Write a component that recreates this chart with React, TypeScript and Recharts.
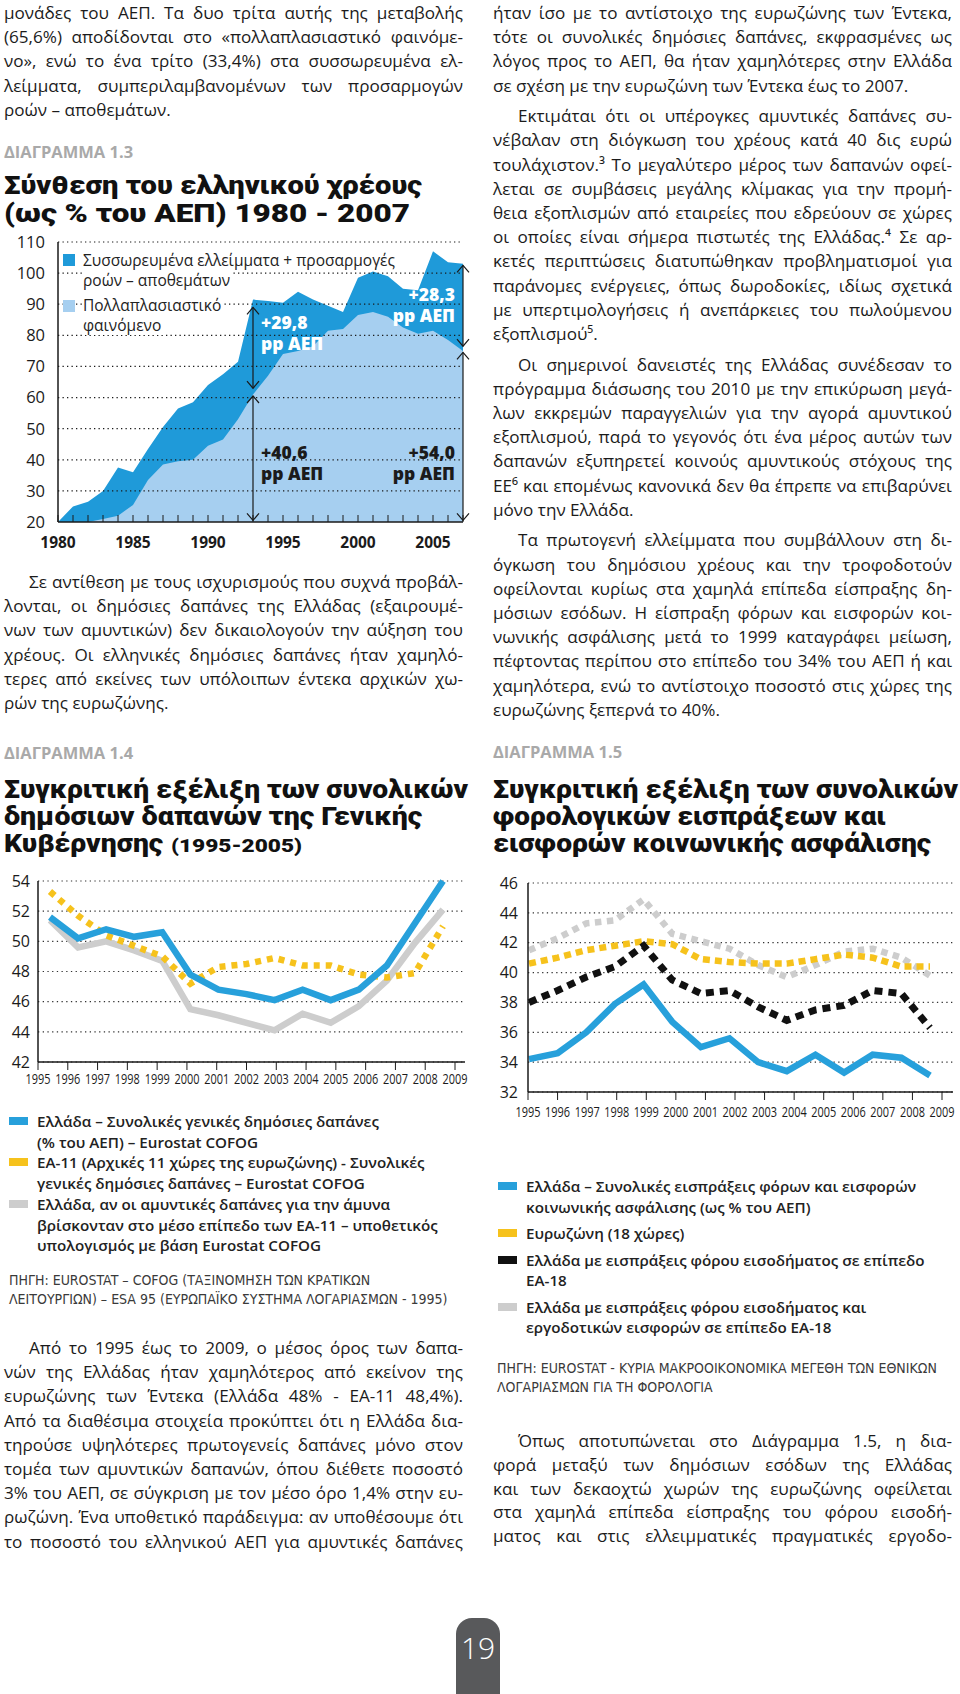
import React from "react";
import {
  AreaChart,
  Area,
  LineChart,
  Line,
  XAxis,
  YAxis,
  CartesianGrid,
  ReferenceLine,
  ReferenceDot,
} from "recharts";

const BODY = '"Open Sans", "Noto Sans", sans-serif';
const HEAVY = 'Roboto, "Noto Sans", sans-serif';
const NARROW = '"Liberation Sans Narrow", "DejaVu Sans Condensed", "Roboto Condensed", sans-serif';
const INK = "#1b1b1b";
const DARK_BLUE = "#1f9ad9";
const LIGHT_BLUE = "#a6cff0";
const LINE_BLUE = "#27a0db";
const YELLOW = "#f6c21c";
const GREY = "#cdcdcd";
const BLACK = "#111111";

// ---- Διάγραμμα 1.3 : σύνθεση χρέους
const debtYears = [
  1980, 1981, 1982, 1983, 1984, 1985, 1986, 1987, 1988, 1989, 1990, 1991, 1992, 1993,
  1994, 1995, 1996, 1997, 1998, 1999, 2000, 2001, 2002, 2003, 2004, 2005, 2006, 2007,
];
const debtTotal = [
  20, 25, 26.5, 30, 37.5, 36, 43.5, 50.5, 56.5, 58.5, 64, 67.5, 71.5, 91.5,
  91, 90.5, 94, 91.5, 89.5, 87.5, 98.5, 100.5, 99, 95, 94.5, 107, 103.5, 103,
];
const debtMultiplier = [
  20, 20, 20, 21, 22, 25.5, 33.5, 38.5, 39.5, 40, 44.5, 46.5, 53, 61,
  67, 74, 75, 76.5, 81.5, 82, 86.5, 87.5, 86, 82.5, 80.5, 81.5, 78.5, 75,
];
const debtTicks = [20, 30, 40, 50, 60, 70, 80, 90, 100, 110];
const arrowYears = [1993, 1993, 2007, 2007];
const arrowFrom = [20.5, 63, 20.5, 76.5];
const arrowTo = [60.5, 89, 74.5, 102.5];
const noteYears = [1993, 1993, 2007, 2007];
const noteLevels = [84, 42.2, 93, 42.2];
const noteValues = ["+29,8", "+40,6", "+28,3", "+54,0"];
const debtLegend = [
  ["Συσσωρευμένα ελλείμματα + προσαρμογές", "ροών – αποθεμάτων"],
  ["Πολλαπλασιαστικό", "φαινόμενο"],
];

// ---- Διάγραμμα 1.4 : δημόσιες δαπάνες
const spendYears = [1995, 1996, 1997, 1998, 1999, 2000, 2001, 2002, 2003, 2004, 2005, 2006, 2007, 2008, 2009];
const spendGreece = [51.6, 50.2, 50.8, 50.3, 50.6, 47.8, 46.8, 46.5, 46.1, 46.8, 46.1, 46.8, 48.4, 51.2, 54.0];
const spendEA11 = [53.3, 51.7, 50.4, 49.7, 49.0, 47.2, 48.3, 48.5, 48.9, 48.4, 48.4, 47.8, 47.6, 47.9, 51.0];
const spendGreeceAdj = [51.4, 49.6, 50.0, 49.4, 48.7, 45.5, 45.1, 44.6, 44.1, 45.2, 44.6, 45.7, 47.4, 49.9, 52.1];
const spendTicks = [42, 44, 46, 48, 50, 52, 54];
const spendLegend = [
  ["Ελλάδα – Συνολικές γενικές δημόσιες δαπάνες", "(% του ΑΕΠ) – Eurostat COFOG"],
  ["ΕΑ-11 (Αρχικές 11 χώρες της ευρωζώνης) - Συνολικές", "γενικές δημόσιες δαπάνες – Eurostat COFOG"],
  [
    "Ελλάδα, αν οι αμυντικές δαπάνες για την άμυνα",
    "βρίσκονταν στο μέσο επίπεδο των ΕΑ-11 – υποθετικός",
    "υπολογισμός με βάση Eurostat COFOG",
  ],
];
const spendSource = [
  "ΠΗΓΗ: EUROSTAT – COFOG (ΤΑΞΙΝΟΜΗΣΗ ΤΩΝ ΚΡΑΤΙΚΩΝ",
  "ΛΕΙΤΟΥΡΓΙΩΝ) – ESA 95 (ΕΥΡΩΠΑΪΚΟ ΣΥΣΤΗΜΑ ΛΟΓΑΡΙΑΣΜΩΝ - 1995)",
];

// ---- Διάγραμμα 1.5 : φορολογικά έσοδα
const revYears = [1995, 1996, 1997, 1998, 1999, 2000, 2001, 2002, 2003, 2004, 2005, 2006, 2007, 2008, 2009];
const revGreece = [34.2, 34.6, 36.0, 37.9, 39.2, 36.7, 35.0, 35.6, 34.0, 33.4, 34.5, 33.3, 34.5, 34.3, 33.1];
const revEZ18 = [40.6, 41.0, 41.5, 41.8, 42.1, 41.9, 40.9, 40.7, 40.6, 40.6, 40.9, 41.2, 41.0, 40.4, 40.4];
const revIncomeTax = [38.0, 38.8, 39.7, 40.4, 41.8, 39.5, 38.6, 38.8, 37.7, 36.8, 37.5, 37.8, 38.8, 38.6, 36.3];
const revIncomeEmployer = [41.5, 42.3, 43.3, 43.5, 44.9, 42.6, 42.1, 41.6, 40.5, 39.7, 40.5, 41.4, 41.6, 41.0, 39.8];
const revTicks = [32, 34, 36, 38, 40, 42, 44, 46];
const revLegend = [
  ["Ελλάδα – Συνολικές εισπράξεις φόρων και εισφορών", "κοινωνικής ασφάλισης (ως % του ΑΕΠ)"],
  ["Ευρωζώνη (18 χώρες)"],
  ["Ελλάδα με εισπράξεις φόρου εισοδήματος σε επίπεδο", "ΕΑ-18"],
  ["Ελλάδα με εισπράξεις φόρου εισοδήματος και", "εργοδοτικών εισφορών σε επίπεδο ΕΑ-18"],
];
const revSource = [
  "ΠΗΓΗ: EUROSTAT - ΚΥΡΙΑ ΜΑΚΡΟΟΙΚΟΝΟΜΙΚΑ ΜΕΓΕΘΗ ΤΩΝ ΕΘΝΙΚΩΝ",
  "ΛΟΓΑΡΙΑΣΜΩΝ ΓΙΑ ΤΗ ΦΟΡΟΛΟΓΙΑ",
];

// ---- κείμενο σελίδας
type Para = { lines: string[]; indent?: boolean; open?: boolean };

const leftTop: Para[] = [
  {
    lines: [
      "μονάδες του ΑΕΠ. Τα δυο τρίτα αυτής της μεταβολής",
      "(65,6%) αποδίδονται στο «πολλαπλασιαστικό φαινόμε-",
      "νο», ενώ το ένα τρίτο (33,4%) στα συσσωρευμένα ελ-",
      "λείμματα, συμπεριλαμβανομένων των προσαρμογών",
      "ροών – αποθεμάτων.",
    ],
  },
];
const leftMid: Para[] = [
  {
    indent: true,
    lines: [
      "Σε αντίθεση με τους ισχυρισμούς που συχνά προβάλ-",
      "λονται, οι δημόσιες δαπάνες της Ελλάδας (εξαιρουμέ-",
      "νων των αμυντικών) δεν δικαιολογούν την αύξηση του",
      "χρέους. Οι ελληνικές δημόσιες δαπάνες ήταν χαμηλό-",
      "τερες από εκείνες των υπόλοιπων έντεκα αρχικών χω-",
      "ρών της ευρωζώνης.",
    ],
  },
];
const leftBottom: Para[] = [
  {
    indent: true,
    open: true,
    lines: [
      "Από το 1995 έως το 2009, ο μέσος όρος των δαπα-",
      "νών της Ελλάδας ήταν χαμηλότερος από εκείνον της",
      "ευρωζώνης των Έντεκα (Ελλάδα 48% - ΕΑ-11 48,4%).",
      "Από τα διαθέσιμα στοιχεία προκύπτει ότι η Ελλάδα δια-",
      "τηρούσε υψηλότερες πρωτογενείς δαπάνες μόνο στον",
      "τομέα των αμυντικών δαπανών, όπου διέθετε ποσοστό",
      "3% του ΑΕΠ, σε σύγκριση με τον μέσο όρο 1,4% στην ευ-",
      "ρωζώνη. Ένα υποθετικό παράδειγμα: αν υποθέσουμε ότι",
      "το ποσοστό του ελληνικού ΑΕΠ για αμυντικές δαπάνες",
    ],
  },
];
const rightTop: Para[] = [
  {
    lines: [
      "ήταν ίσο με το αντίστοιχο της ευρωζώνης των Έντεκα,",
      "τότε οι συνολικές δημόσιες δαπάνες, εκφρασμένες ως",
      "λόγος προς το ΑΕΠ, θα ήταν χαμηλότερες στην Ελλάδα",
      "σε σχέση με την ευρωζώνη των Έντεκα έως το 2007.",
    ],
  },
  {
    indent: true,
    lines: [
      "Εκτιμάται ότι οι υπέρογκες αμυντικές δαπάνες συ-",
      "νέβαλαν στη διόγκωση του χρέους κατά 40 δις ευρώ",
      "τουλάχιστον.³ Το μεγαλύτερο μέρος των δαπανών οφεί-",
      "λεται σε συμβάσεις μεγάλης κλίμακας για την προμή-",
      "θεια εξοπλισμών από εταιρείες που εδρεύουν σε χώρες",
      "οι οποίες είναι σήμερα πιστωτές της Ελλάδας.⁴ Σε αρ-",
      "κετές περιπτώσεις διατυπώθηκαν προβληματισμοί για",
      "παράνομες ενέργειες, όπως δωροδοκίες, ιδίως σχετικά",
      "με υπερτιμολογήσεις ή ανεπάρκειες του πωλούμενου",
      "εξοπλισμού⁵.",
    ],
  },
  {
    indent: true,
    lines: [
      "Οι σημερινοί δανειστές της Ελλάδας συνέδεσαν το",
      "πρόγραμμα διάσωσης του 2010 με την επικύρωση μεγά-",
      "λων εκκρεμών παραγγελιών για την αγορά αμυντικού",
      "εξοπλισμού, παρά το γεγονός ότι ένα μέρος αυτών των",
      "δαπανών εξυπηρετεί κοινούς αμυντικούς στόχους της",
      "ΕΕ⁶ και επομένως κανονικά δεν θα έπρεπε να επιβαρύνει",
      "μόνο την Ελλάδα.",
    ],
  },
  {
    indent: true,
    lines: [
      "Τα πρωτογενή ελλείμματα που συμβάλλουν στη δι-",
      "όγκωση του δημόσιου χρέους και την τροφοδοτούν",
      "οφείλονται κυρίως στα χαμηλά επίπεδα είσπραξης δη-",
      "μόσιων εσόδων. Η είσπραξη φόρων και εισφορών κοι-",
      "νωνικής ασφάλισης μετά το 1999 καταγράφει μείωση,",
      "πέφτοντας περίπου στο επίπεδο του 34% του ΑΕΠ ή και",
      "χαμηλότερα, ενώ το αντίστοιχο ποσοστό στις χώρες της",
      "ευρωζώνης ξεπερνά το 40%.",
    ],
  },
];
const rightBottom: Para[] = [
  {
    indent: true,
    open: true,
    lines: [
      "Όπως αποτυπώνεται στο Διάγραμμα 1.5, η δια-",
      "φορά μεταξύ των δημόσιων εσόδων της Ελλάδας",
      "και των δεκαοχτώ χωρών της ευρωζώνης οφείλεται",
      "στα χαμηλά επίπεδα είσπραξης του φόρου εισοδή-",
      "ματος και στις ελλειμματικές πραγματικές εργοδο-",
    ],
  },
];

const COL_W = 459;
const LH = 24.2;

function BodyLine({ x, cy, w, text, justify }: { x: number; cy: number; w: number; text: string; justify: boolean }) {
  const base: React.CSSProperties = {
    position: "absolute",
    left: x,
    top: cy - 12,
    width: w,
    height: 24,
    lineHeight: "24px",
    fontSize: 17.1,
    whiteSpace: "nowrap",
    fontFamily: BODY,
    color: INK,
  };
  if (!justify) return <div style={base}>{text}</div>;
  return (
    <div style={{ ...base, display: "flex", justifyContent: "space-between" }}>
      {text.split(" ").map((t, i) => (
        <span key={i}>{t}</span>
      ))}
    </div>
  );
}

function Column({ x, top, paras, lh = LH, gap = 6.4 }: { x: number; top: number; paras: Para[]; lh?: number; gap?: number }) {
  const out: React.ReactNode[] = [];
  let cy = top;
  paras.forEach((p, pi) => {
    p.lines.forEach((line, li) => {
      const ind = p.indent && li === 0 ? 25 : 0;
      const justify = li < p.lines.length - 1 || !!p.open;
      out.push(<BodyLine key={`${pi}-${li}`} x={x + ind} cy={cy} w={COL_W - ind} text={line} justify={justify} />);
      cy += lh;
    });
    cy += gap;
  });
  return <>{out}</>;
}

function Kicker({ x, cy, text }: { x: number; cy: number; text: string }) {
  return (
    <div
      style={{
        position: "absolute",
        left: x,
        top: cy - 10,
        height: 20,
        lineHeight: "20px",
        fontFamily: BODY,
        fontWeight: 700,
        fontSize: 16.5,
        color: "#a9a9a9",
        whiteSpace: "nowrap",
      }}
    >
      {text}
    </div>
  );
}

function Title({ x, y, w, text, size = 26.5 }: { x: number; y: number; w: number; text: string; size?: number }) {
  return (
    <text
      x={x}
      y={y}
      textLength={w}
      lengthAdjust="spacingAndGlyphs"
      fontFamily={HEAVY}
      fontWeight={900}
      fontSize={size}
      fill="#111"
    >
      {text}
    </text>
  );
}

function ChartLegend({ x, top, step, gap, items, colors }: { x: number; top: number; step: number; gap: number; items: string[][]; colors: string[] }) {
  const out: React.ReactNode[] = [];
  let cy = top;
  items.forEach((lines, i) => {
    out.push(
      <div key={`s${i}`} style={{ position: "absolute", left: x, top: cy - 4, width: 19, height: 8, background: colors[i] }} />
    );
    lines.forEach((l, j) => {
      out.push(
        <div
          key={`t${i}-${j}`}
          style={{
            position: "absolute",
            left: x + 28,
            top: cy - 10,
            height: 20,
            lineHeight: "20px",
            fontFamily: BODY,
            fontWeight: 600,
            fontSize: 15.2,
            color: "#222",
            whiteSpace: "nowrap",
          }}
        >
          {l}
        </div>
      );
      cy += step;
    });
    cy += gap;
  });
  return <>{out}</>;
}

function Source({ x, top, lines }: { x: number; top: number; lines: string[] }) {
  return (
    <>
      {lines.map((l, i) => (
        <div
          key={i}
          style={{
            position: "absolute",
            left: x,
            top: top + i * 19 - 9,
            height: 18,
            lineHeight: "18px",
            fontFamily: NARROW,
            fontSize: 14,
            color: "#3a3a3a",
            whiteSpace: "nowrap",
          }}
        >
          {l}
        </div>
      ))}
    </>
  );
}

// ---------- chart 1.3
const debtData = debtYears.map((year, i) => ({ year, total: debtTotal[i], multiplier: debtMultiplier[i] }));

function DebtYearTick(props: any) {
  const { x, y, payload } = props;
  if (payload.value % 5 !== 0) return <g />;
  return (
    <text x={x} y={y} dy="0.72em" textAnchor="middle" fontFamily={BODY} fontWeight={700} fontSize={15.5} fill={INK}>
      {payload.value}
    </text>
  );
}

// condensed year labels for charts 1.4 / 1.5
function NarrowYearTick(props: any) {
  const { x, y, payload } = props;
  return (
    <text
      x={x}
      y={y}
      dy="0.74em"
      textAnchor="middle"
      textLength={25}
      lengthAdjust="spacingAndGlyphs"
      fontFamily={BODY}
      fontSize={14}
      fill={INK}
    >
      {payload.value}
    </text>
  );
}

function ArrowShape(props: any) {
  const { x1, y1, y2 } = props;
  const top = Math.min(y1, y2);
  const bot = Math.max(y1, y2);
  return (
    <g stroke="#1a1a1a" strokeWidth={1.2} fill="none">
      <line x1={x1} y1={top} x2={x1} y2={bot} />
      <polyline points={`${x1 - 6},${top + 7} ${x1},${top} ${x1 + 6},${top + 7}`} />
      <polyline points={`${x1 - 6},${bot - 7} ${x1},${bot} ${x1 + 6},${bot - 7}`} />
    </g>
  );
}

function NoteShape(props: any) {
  const { cx, cy, value, light, end } = props;
  const x = end ? cx - 8 : cx + 8;
  return (
    <text
      x={x}
      y={cy}
      textAnchor={end ? "end" : "start"}
      fontFamily={BODY}
      fontWeight={800}
      fontSize={17.5}
      fill={light ? "#ffffff" : INK}
    >
      <tspan x={x} dy="0.35em">{value}</tspan>
      <tspan x={x} dy="1.2em">pp ΑΕΠ</tspan>
    </text>
  );
}

function DebtChart() {
  return (
    <div style={{ position: "absolute", left: 0, top: 225, width: 475, height: 332 }}>
      <AreaChart width={475} height={332} data={debtData} margin={{ top: 17, right: 12, bottom: 5, left: 8 }}>
        <XAxis
          dataKey="year"
          type="number"
          domain={[1980, 2007]}
          ticks={debtYears}
          interval={0}
          tickSize={-7}
          tickMargin={22}
          height={30}
          axisLine={{ stroke: "#1a1a1a", strokeWidth: 1.5 }}
          tickLine={{ stroke: "#1a1a1a" }}
          tick={<DebtYearTick />}
        />
        <YAxis
          domain={[20, 110]}
          ticks={debtTicks}
          width={50}
          tickLine={false}
          tickMargin={7}
          axisLine={{ stroke: "#1a1a1a", strokeWidth: 1.5 }}
          tick={{ fill: INK, fontSize: 16.5, fontFamily: BODY }}
        />
        <Area
          dataKey="total"
          type="linear"
          baseValue={20}
          stroke="none"
          fill={DARK_BLUE}
          fillOpacity={1}
          isAnimationActive={false}
        />
        <Area
          dataKey="multiplier"
          type="linear"
          baseValue={20}
          stroke="none"
          fill={LIGHT_BLUE}
          fillOpacity={1}
          isAnimationActive={false}
        />
        {debtTicks.slice(1).map((v) => (
          <ReferenceLine key={`g${v}`} y={v} stroke="#1a1a1a" strokeWidth={1.2} strokeDasharray="1.3 3.2" />
        ))}
        {arrowYears.map((yr, i) => (
          <ReferenceLine
            key={`a${i}`}
            segment={[
              { x: yr, y: arrowFrom[i] },
              { x: yr, y: arrowTo[i] },
            ]}
            shape={(p: any) => <ArrowShape {...p} />}
          />
        ))}
        {noteYears.map((yr, i) => (
          <ReferenceDot
            key={`n${i}`}
            x={yr}
            y={noteLevels[i]}
            r={1}
            shape={(p: any) => <NoteShape cx={p.cx} cy={p.cy} value={noteValues[i]} light={i % 2 === 0} end={yr === 2007} />}
          />
        ))}
      </AreaChart>
      {/* legend */}
      {debtLegend.map((lines, i) => (
        <React.Fragment key={i}>
          <div
            style={{
              position: "absolute",
              left: 63,
              top: i === 0 ? 29 : 75,
              width: 12,
              height: 12,
              background: i === 0 ? DARK_BLUE : LIGHT_BLUE,
            }}
          />
          {lines.map((l, j) => (
            <div
              key={j}
              style={{
                position: "absolute",
                left: 83,
                top: (i === 0 ? 35 : 80) + j * 20 - 10,
                height: 20,
                lineHeight: "20px",
                fontFamily: BODY,
                fontSize: 15.5,
                color: "#222",
                background: "#fff",
                whiteSpace: "nowrap",
                paddingRight: 2,
              }}
            >
              {l}
            </div>
          ))}
        </React.Fragment>
      ))}
    </div>
  );
}

// ---------- chart 1.4
const spendData = spendYears.map((year, i) => ({
  year,
  greece: spendGreece[i],
  ea11: spendEA11[i],
  adj: spendGreeceAdj[i],
}));

const valueTick = { fill: INK, fontSize: 16, fontFamily: BODY };

// the printed year ticks sit on a slightly wider scale than the plotted points,
// so the visible axis carries an invisible line just to give it a domain
function SpendingChart() {
  return (
    <div style={{ position: "absolute", left: 0, top: 870 }}>
      <LineChart width={470} height={227} data={spendData} margin={{ top: 11, right: 5, bottom: 5, left: 8 }}>
        <CartesianGrid xAxisId="lab" vertical={false} stroke="#333" strokeWidth={1.2} strokeDasharray="1.3 3.4" />
        <XAxis
          xAxisId="lab"
          dataKey="year"
          type="number"
          domain={[1995, 2009]}
          ticks={spendYears}
          interval={0}
          padding={{ left: 0, right: 10 }}
          tickSize={8}
          tickMargin={4}
          height={30}
          axisLine={{ stroke: "#1a1a1a", strokeWidth: 1.5 }}
          tickLine={{ stroke: "#1a1a1a" }}
          tick={<NarrowYearTick />}
        />
        <XAxis xAxisId="pts" dataKey="year" type="number" domain={[1995, 2009]} padding={{ left: 12, right: 22 }} hide />
        <YAxis
          domain={[42, 54]}
          ticks={spendTicks}
          width={30}
          tickLine={false}
          tickMargin={2}
          axisLine={{ stroke: "#1a1a1a", strokeWidth: 1.5 }}
          tick={valueTick}
        />
        <Line xAxisId="lab" dataKey="greece" stroke="none" dot={false} activeDot={false} legendType="none" isAnimationActive={false} />
        <Line xAxisId="pts" dataKey="adj" type="linear" stroke={GREY} strokeWidth={6.5} dot={false} isAnimationActive={false} />
        <Line
          xAxisId="pts"
          dataKey="ea11"
          type="linear"
          stroke={YELLOW}
          strokeWidth={6.5}
          strokeDasharray="6 6"
          dot={false}
          isAnimationActive={false}
        />
        <Line xAxisId="pts" dataKey="greece" type="linear" stroke={LINE_BLUE} strokeWidth={6.5} dot={false} isAnimationActive={false} />
      </LineChart>
    </div>
  );
}

// ---------- chart 1.5
const revData = revYears.map((year, i) => ({
  year,
  greece: revGreece[i],
  ez18: revEZ18[i],
  incomeTax: revIncomeTax[i],
  incomeEmployer: revIncomeEmployer[i],
}));

function RevenueChart() {
  return (
    <div style={{ position: "absolute", left: 480, top: 870 }}>
      <LineChart width={480} height={257} data={revData} margin={{ top: 13, right: 7, bottom: 5, left: 8 }}>
        <CartesianGrid xAxisId="lab" vertical={false} stroke="#333" strokeWidth={1.2} strokeDasharray="1.3 3.4" />
        <XAxis
          xAxisId="lab"
          dataKey="year"
          type="number"
          domain={[1995, 2009]}
          ticks={revYears}
          interval={0}
          padding={{ left: 0, right: 11 }}
          tickSize={8}
          tickMargin={7}
          height={30}
          axisLine={{ stroke: "#1a1a1a", strokeWidth: 1.5 }}
          tickLine={{ stroke: "#1a1a1a" }}
          tick={<NarrowYearTick />}
        />
        <XAxis xAxisId="pts" dataKey="year" type="number" domain={[1995, 2009]} padding={{ left: 1, right: 23 }} hide />
        <YAxis
          domain={[32, 46]}
          ticks={revTicks}
          width={40}
          tickLine={false}
          tickMargin={4}
          axisLine={{ stroke: "#1a1a1a", strokeWidth: 1.5 }}
          tick={valueTick}
        />
        <Line xAxisId="lab" dataKey="greece" stroke="none" dot={false} activeDot={false} legendType="none" isAnimationActive={false} />
        <Line
          xAxisId="pts"
          dataKey="incomeEmployer"
          type="linear"
          stroke={GREY}
          strokeWidth={6.5}
          strokeDasharray="6.5 5.5"
          dot={false}
          isAnimationActive={false}
        />
        <Line
          xAxisId="pts"
          dataKey="ez18"
          type="linear"
          stroke={YELLOW}
          strokeWidth={6.5}
          strokeDasharray="7 5"
          dot={false}
          isAnimationActive={false}
        />
        <Line
          xAxisId="pts"
          dataKey="incomeTax"
          type="linear"
          stroke={BLACK}
          strokeWidth={7}
          strokeDasharray="8 6"
          dot={false}
          isAnimationActive={false}
        />
        <Line xAxisId="pts" dataKey="greece" type="linear" stroke={LINE_BLUE} strokeWidth={6.5} dot={false} isAnimationActive={false} />
      </LineChart>
    </div>
  );
}

export default function App() {
  return (
    <div
      style={{
        position: "absolute",
        left: 0,
        top: 0,
        width: 960,
        height: 1694,
        background: "#fff",
        overflow: "hidden",
      }}
    >
      <svg width={960} height={1694} style={{ position: "absolute", left: 0, top: 0 }}>
        <Title x={4} y={194} w={418} text="Σύνθεση του ελληνικού χρέους" />
        <Title x={4} y={222} w={406} text="(ως % του ΑΕΠ) 1980 - 2007" />
        <Title x={4} y={798} w={464} text="Συγκριτική εξέλιξη των συνολικών" />
        <Title x={4} y={825} w={418} text="δημόσιων δαπανών της Γενικής" />
        <Title x={4} y={852} w={159} text="Κυβέρνησης" />
        <Title x={171} y={852} w={131} text="(1995-2005)" size={19} />
        <Title x={493} y={798} w={465} text="Συγκριτική εξέλιξη των συνολικών" />
        <Title x={493} y={825} w={393} text="φορολογικών εισπράξεων και" />
        <Title x={493} y={852} w={438} text="εισφορών κοινωνικής ασφάλισης" />
      </svg>

      <Column x={4} top={13} paras={leftTop} />
      <Kicker x={4} cy={152} text="ΔΙΑΓΡΑΜΜΑ 1.3" />
      <DebtChart />
      <Column x={4} top={582} paras={leftMid} />
      <Kicker x={4} cy={753} text="ΔΙΑΓΡΑΜΜΑ 1.4" />
      <SpendingChart />
      <ChartLegend x={9} top={1121} step={20.7} gap={0} items={spendLegend} colors={[LINE_BLUE, YELLOW, GREY]} />
      <Source x={9} top={1280} lines={spendSource} />
      <Column x={4} top={1348} paras={leftBottom} />

      <Column x={493} top={13} paras={rightTop} />
      <Kicker x={493} cy={752} text="ΔΙΑΓΡΑΜΜΑ 1.5" />
      <RevenueChart />
      <ChartLegend x={498} top={1186} step={20.5} gap={6} items={revLegend} colors={[LINE_BLUE, YELLOW, BLACK, GREY]} />
      <Source x={497} top={1368} lines={revSource} />
      <Column x={493} top={1441} paras={rightBottom} lh={23.8} />

      <div
        style={{
          position: "absolute",
          left: 456,
          top: 1618,
          width: 44,
          height: 80,
          background: "#58595b",
          borderRadius: "16px 16px 0 0",
          color: "#fff",
          fontFamily: BODY,
          fontSize: 30,
          fontWeight: 300,
          textAlign: "center",
          lineHeight: "60px",
        }}
      >
        19
      </div>
    </div>
  );
}
